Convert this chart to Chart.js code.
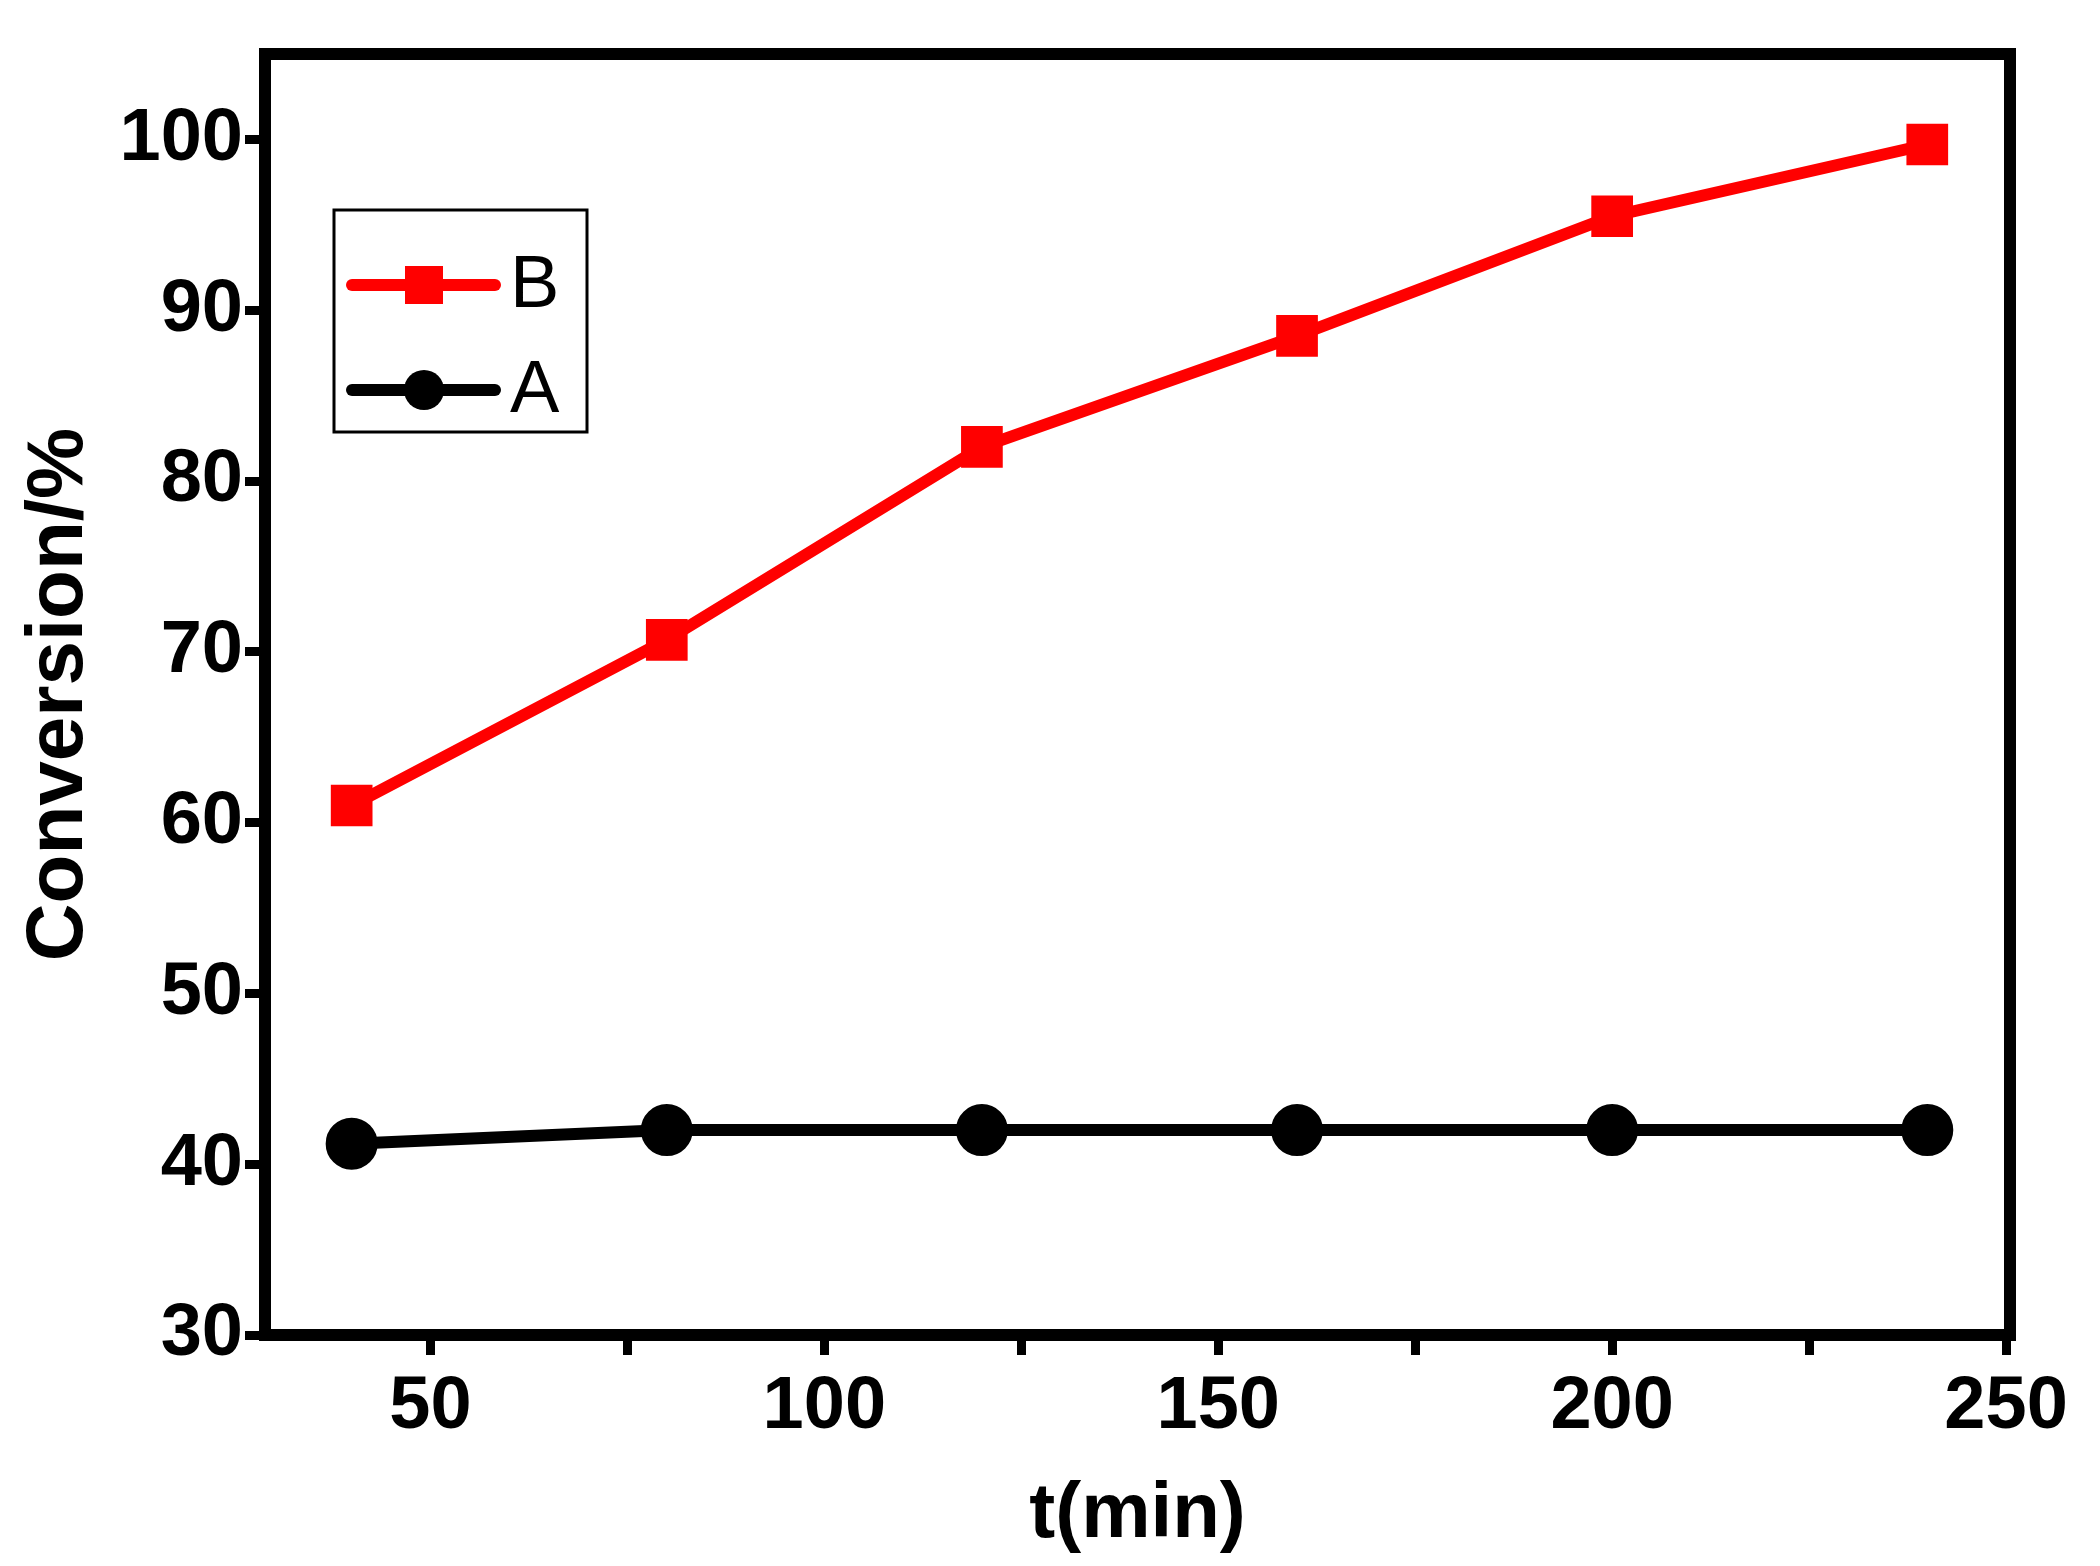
<!DOCTYPE html>
<html><head><meta charset="utf-8">
<script src="https://cdn.jsdelivr.net/npm/chart.js@4"></script>
<style>html,body{margin:0;padding:0;background:#fff}#w{width:2100px;height:1566px}</style>
</head><body><div id="w"><canvas id="c"></canvas></div>
<script>
const times = [40, 80, 120, 160, 200, 240];
const seriesB = [61.0, 70.7, 82.0, 88.5, 95.5, 99.7];
const seriesA = [41.2, 42.0, 42.0, 42.0, 42.0, 42.0];
const xTickLabels = [50, 100, 150, 200, 250];
const yTickLabels = [30, 40, 50, 60, 70, 80, 90, 100];

const FONT = "'Liberation Sans', Arial, sans-serif";

const frame = {
  id: 'frame',
  afterDatasetsDraw(chart) {
    const {ctx, chartArea: a} = chart;
    ctx.save();
    ctx.strokeStyle = '#000'; ctx.lineWidth = 12;
    ctx.strokeRect(a.left, a.top, a.right - a.left, a.bottom - a.top);
    const lx = 334, ly = 210, lw = 253, lh = 222;
    ctx.lineWidth = 3;
    ctx.fillStyle = '#fff';
    ctx.fillRect(lx, ly, lw, lh);
    ctx.strokeRect(lx, ly, lw, lh);
    const items = [chart.data.datasets[0], chart.data.datasets[1]];
    items.forEach((ds, i) => {
      const cy = ly + 75 + i * 105;
      ctx.strokeStyle = ds.borderColor; ctx.lineWidth = 12; ctx.lineCap = 'round';
      ctx.beginPath(); ctx.moveTo(352, cy); ctx.lineTo(495, cy); ctx.stroke();
      ctx.fillStyle = ds.pointBackgroundColor;
      if (ds.pointStyle === 'rect') ctx.fillRect(424 - 19, cy - 19, 38, 38);
      else { ctx.beginPath(); ctx.arc(424, cy, 20, 0, Math.PI * 2); ctx.fill(); }
      ctx.fillStyle = '#000';
      ctx.font = '74px ' + FONT; ctx.textBaseline = 'middle';
      ctx.fillText(ds.label, 510, cy + 2);
    });
    ctx.restore();
  }
};

new Chart(document.getElementById('c'), {
  type: 'line',
  data: {
    datasets: [
      {label: 'B', data: times.map((t, i) => ({x: t, y: seriesB[i]})), borderColor: '#ff0000',
       pointBackgroundColor: '#ff0000', pointBorderColor: '#ff0000', pointStyle: 'rect', pointRadius: 21, borderWidth: 12},
      {label: 'A', data: times.map((t, i) => ({x: t, y: seriesA[i]})), borderColor: '#000000',
       pointBackgroundColor: '#000000', pointBorderColor: '#000000', pointStyle: 'circle', pointRadius: 20, borderWidth: 12}
    ]
  },
  options: {
    responsive: true, maintainAspectRatio: false, animation: false,
    layout: {padding: {top: 54, right: 90, left: 8, bottom: 0}},
    plugins: {legend: {display: false}, tooltip: {enabled: false}},
    scales: {
      x: {
        type: 'linear', min: 29, max: 250.5,
        afterBuildTicks(s) { const t = []; for (let v = 50; v <= 250; v += 25) t.push({value: v}); s.ticks = t; },
        afterFit(s) { s.height = 231; },
        border: {display: false},
        grid: {drawOnChartArea: false, tickLength: 20, tickWidth: 9, color: '#000'},
        ticks: {color: '#000', padding: 8, font: {family: FONT, size: 74, weight: 'bold'},
          callback: v => xTickLabels.includes(v) ? String(v) : ''},
        title: {display: true, text: 't(min)', color: '#000', padding: {top: 0},
          font: {family: FONT, size: 78, weight: 'bold'}}
      },
      y: {
        type: 'linear', min: 30, max: 105,
        afterBuildTicks(s) { const t = []; for (let v = 30; v <= 100; v += 5) t.push({value: v}); s.ticks = t; },
        afterFit(s) { s.width = 257; },
        border: {display: false},
        grid: {drawOnChartArea: false, tickLength: 20, tickWidth: 9, color: '#000'},
        ticks: {color: '#000', padding: 2, font: {family: FONT, size: 74, weight: 'bold'},
          callback: v => yTickLabels.includes(v) ? String(v) : ''},
        title: {display: true, text: 'Conversion/%', color: '#000', padding: {bottom: 0},
          font: {family: FONT, size: 80, weight: 'bold'}}
      }
    }
  },
  plugins: [frame]
});
</script></body></html>
